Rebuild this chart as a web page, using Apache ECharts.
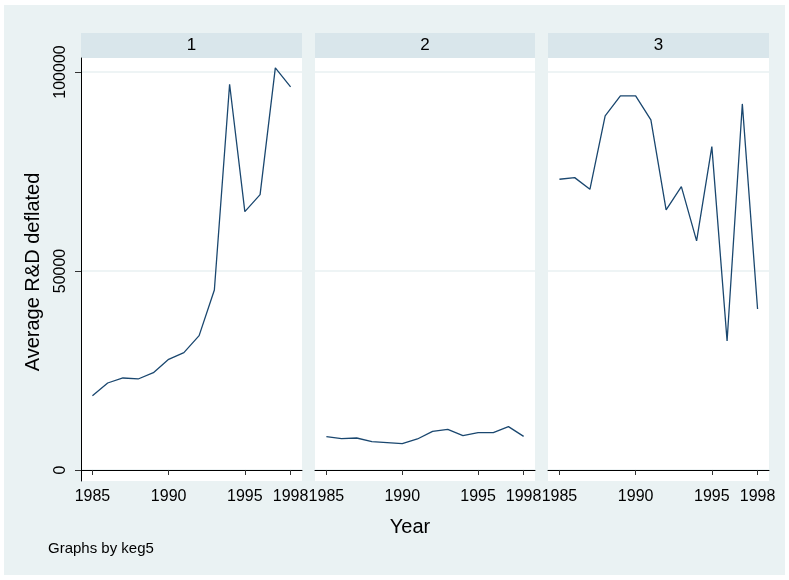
<!DOCTYPE html>
<html>
<head>
<meta charset="utf-8">
<style>
  html, body { margin: 0; padding: 0; background: #ffffff; }
  #chart { width: 789px; height: 580px; }
</style>
<script src="https://cdn.jsdelivr.net/npm/echarts@6/dist/echarts.min.js"></script>
</head>
<body>
<div id="chart"></div>
<script>
// Average deflated R&D by year, one panel per keg5 group
const years = [1985, 1986, 1987, 1988, 1989, 1990, 1991, 1992, 1993, 1994, 1995, 1996, 1997, 1998];
const panelNames = ['1', '2', '3'];
const group1 = [18670, 21860, 23120, 22870, 24460, 27810, 29490, 33760, 45230, 96920, 64920, 69190, 101020, 96250];
const group2 = [8370, 7870, 8040, 7120, 6870, 6620, 7790, 9720, 10220, 8630, 9380, 9380, 10890, 8460];
const group3 = [73050, 73460, 70530, 88960, 93990, 93990, 87960, 65340, 71200, 57550, 81250, 32420, 91980, 40460];
const xTicks = [1985, 1990, 1995, 1998];
const yTicks = [0, 50000, 100000];

const groups = [group1, group2, group3];
const FONT = '"Liberation Sans", Arial, Helvetica, sans-serif';
const LINE = '#1a476f';
const GRID_LINE = '#e8f0f2';
const STRIP = '#d9e6eb';
const BG = '#eaf2f3';
const plain = v => String(Math.round(v));

// panel geometry
const panelLeft = [81, 315, 548];
const panelWidth = [221, 220, 221];
const plotTop = 58, plotHeight = 423;
const stripTop = 33, stripHeight = 25;

const chart = echarts.init(document.getElementById('chart'), null, { renderer: 'canvas' });

const grids = [], xAxes = [], yAxes = [], series = [];
const graphics = [
  { type: 'rect', z: -10, shape: { x: 4, y: 5, width: 781, height: 570 }, style: { fill: BG } }
];

groups.forEach((vals, i) => {
  grids.push({
    left: panelLeft[i], top: plotTop, width: panelWidth[i], height: plotHeight,
    show: true, backgroundColor: '#ffffff', borderWidth: 0
  });
  xAxes.push({
    gridIndex: i, type: 'value', min: 1984.25, max: 1998.75,
    axisLine: { show: true, lineStyle: { color: '#000000', width: 1 } },
    axisTick: { show: true, length: 5, customValues: xTicks, lineStyle: { color: '#333333' } },
    axisLabel: { customValues: xTicks, formatter: plain, margin: 8, fontSize: 16, color: '#000000', fontFamily: FONT },
    splitLine: { show: false }
  });
  yAxes.push({
    gridIndex: i, type: 'value', min: -2764, max: 103517,
    axisLine: { show: i === 0, onZero: false, lineStyle: { color: '#000000', width: 1 } },
    axisTick: { show: i === 0, length: 6, customValues: yTicks, lineStyle: { color: '#333333' } },
    axisLabel: {
      show: i === 0, customValues: yTicks, formatter: plain, rotate: 90, margin: 12,
      fontSize: 16, color: '#000000', fontFamily: FONT
    },
    splitLine: { show: true, lineStyle: { color: GRID_LINE, width: 1.5 } }
  });
  series.push({
    type: 'line', xAxisIndex: i, yAxisIndex: i, showSymbol: false, silent: true,
    lineStyle: { color: LINE, width: 1.3 },
    data: years.map((y, k) => [y, vals[k]])
  });
  // panel strip with its group label
  graphics.push({
    type: 'rect', shape: { x: panelLeft[i], y: stripTop, width: panelWidth[i], height: stripHeight },
    style: { fill: STRIP }
  });
  graphics.push({
    type: 'text', x: panelLeft[i] + panelWidth[i] / 2, y: stripTop + stripHeight / 2,
    style: { text: panelNames[i], fontSize: 17, fill: '#000000', fontFamily: FONT, align: 'center', verticalAlign: 'middle' }
  });
});

graphics.push(
  {
    type: 'text', x: 33, y: 272, rotation: Math.PI / 2,
    style: { text: 'Average R&D deflated', fontSize: 20, fill: '#000000', fontFamily: FONT, align: 'center', verticalAlign: 'middle' }
  },
  {
    type: 'text', x: 410, y: 527,
    style: { text: 'Year', fontSize: 20, fill: '#000000', fontFamily: FONT, align: 'center', verticalAlign: 'middle' }
  },
  {
    type: 'text', x: 48, y: 549,
    style: { text: 'Graphs by keg5', fontSize: 15, fill: '#000000', fontFamily: FONT, align: 'left', verticalAlign: 'middle' }
  }
);

chart.setOption({
  animation: false,
  backgroundColor: '#ffffff',
  grid: grids,
  xAxis: xAxes,
  yAxis: yAxes,
  series: series,
  graphic: graphics
});
</script>
</body>
</html>
